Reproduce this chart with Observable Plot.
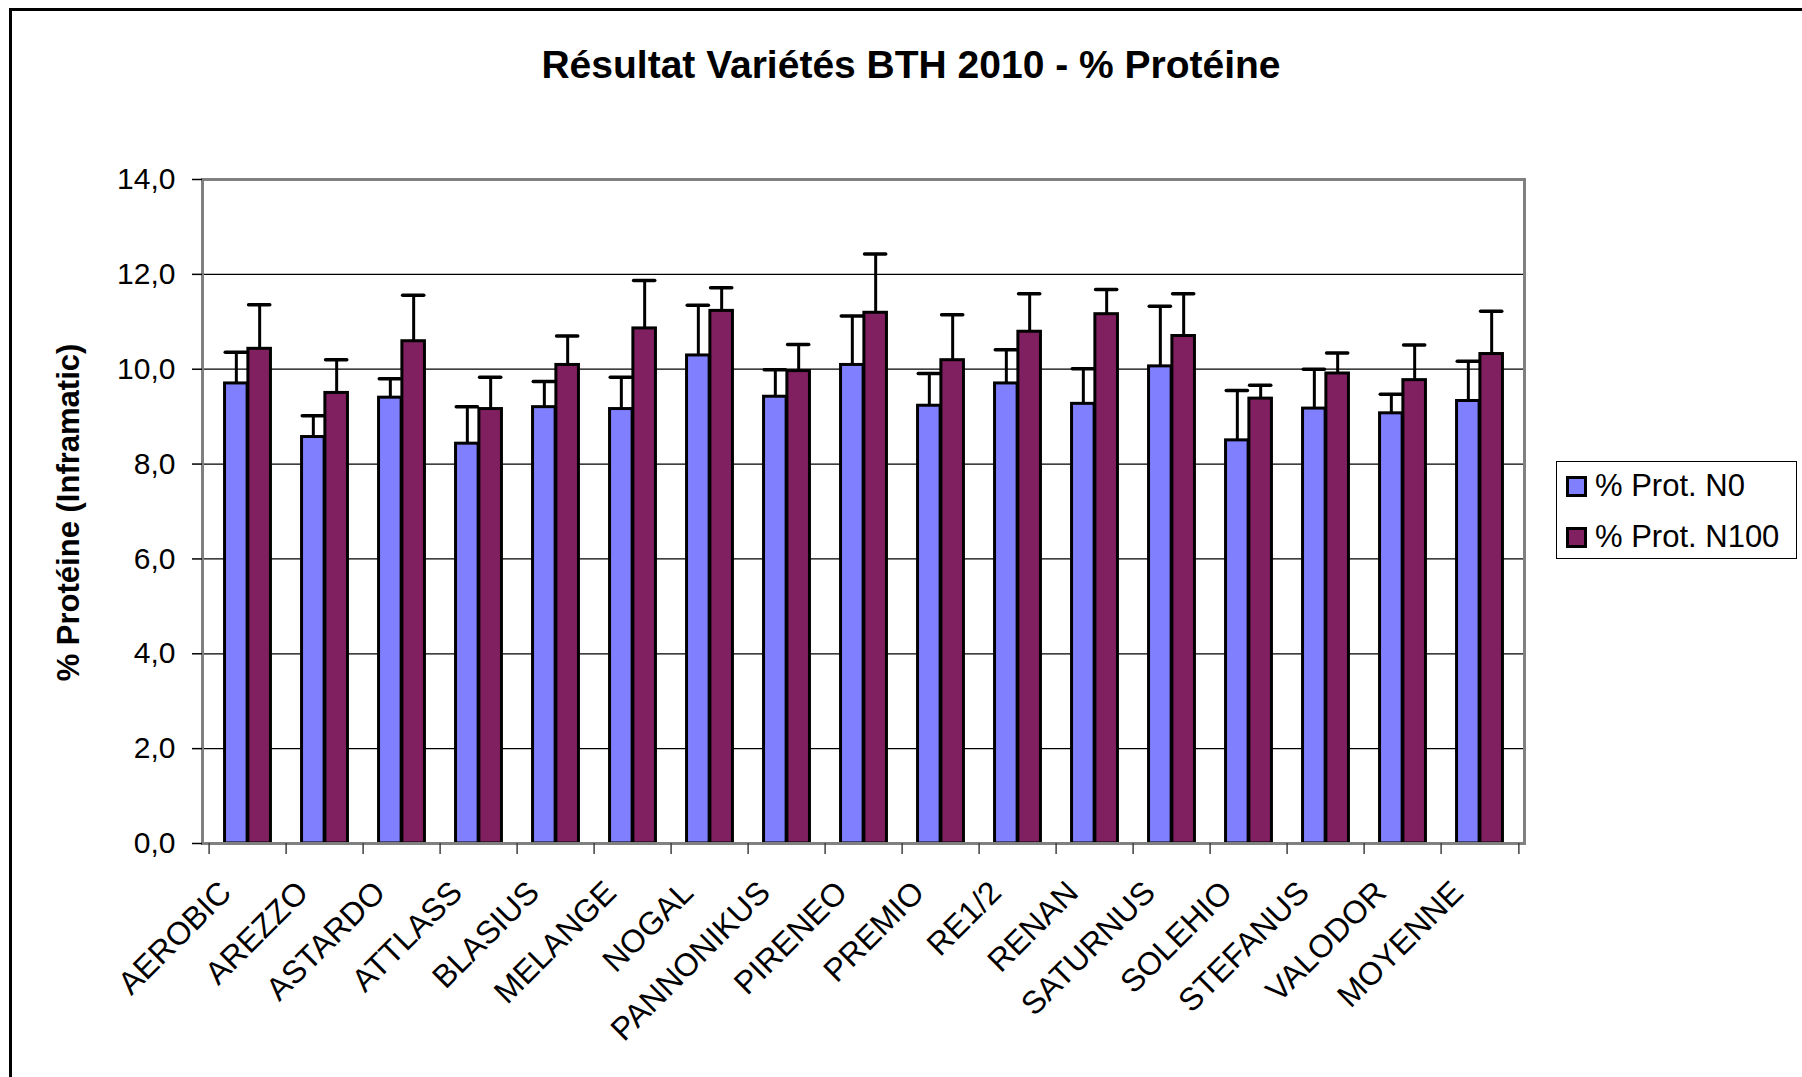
<!DOCTYPE html>
<html><head><meta charset="utf-8">
<script src="https://cdn.jsdelivr.net/npm/d3@7"></script>
<script src="https://cdn.jsdelivr.net/npm/@observablehq/plot@0.6"></script>
<style>
body{margin:0;background:#fff;font-family:"Liberation Sans",Arial,sans-serif;}
#wrap{position:relative;width:1802px;height:1077px;overflow:hidden;background:#fff;}
#frame{position:absolute;left:9px;top:8px;width:1810px;height:1090px;border-top:3px solid #000;border-left:3px solid #000;}
#title{position:absolute;left:0;top:45px;width:1822px;text-align:center;font-weight:bold;font-size:39px;line-height:39px;color:#000;}
#chart{position:absolute;left:0;top:110px;}
#legend{position:absolute;left:1556px;top:461px;width:239px;height:96px;border:1px solid #000;background:#fff;}
.item{position:absolute;left:9px;height:30px;display:flex;align-items:center;font-size:31px;color:#000;white-space:nowrap;}
.sw{width:15px;height:15px;border:3px solid #000;margin-right:8px;}
</style></head>
<body>
<div id="wrap">
  <div id="frame"></div>
  <div id="title"></div>
  <div id="chart"></div>
  <div id="legend"></div>
</div>
<script>
const chartTitle = "Résultat Variétés BTH 2010 - % Protéine";
const yLabel = "% Protéine (Inframatic)";
const categories = ["AEROBIC","AREZZO","ASTARDO","ATTLASS","BLASIUS","MELANGE","NOGAL","PANNONIKUS","PIRENEO","PREMIO","RE1/2","RENAN","SATURNUS","SOLEHIO","STEFANUS","VALODOR","MOYENNE"];
const seriesNames = ["% Prot. N0", "% Prot. N100"];
const protN0 =      [9.70, 8.57, 9.40, 8.43, 9.20, 9.16, 10.29, 9.42, 10.09, 9.23, 9.70, 9.27, 10.06, 8.50, 9.17, 9.07, 9.33];
const protN0Err =   [0.66, 0.45, 0.40, 0.78, 0.54, 0.67, 1.06, 0.57, 1.03, 0.68, 0.71, 0.74, 1.27, 1.05, 0.83, 0.40, 0.84];
const protN100 =    [10.43, 9.50, 10.59, 9.16, 10.09, 10.86, 11.23, 9.96, 11.19, 10.19, 10.79, 11.16, 10.70, 9.38, 9.91, 9.77, 10.32];
const protN100Err = [0.93, 0.70, 0.97, 0.67, 0.61, 1.01, 0.49, 0.56, 1.24, 0.96, 0.80, 0.52, 0.89, 0.28, 0.43, 0.74, 0.90];
const yTicks = [0, 2, 4, 6, 8, 10, 12, 14];
const gridTicks = [2, 4, 6, 8, 10, 12];

const colors = ["#8080ff", "#802060"];

const rows = categories.map((c, i) => ({
  cat: c, n0: protN0[i], n0Up: protN0[i] + protN0Err[i],
  n100: protN100[i], n100Up: protN100[i] + protN100Err[i]
}));

const W = 1802, H = 967;
const mL = 202, mR = 278, mT = 69, mB = 234;
const step = (W - mL - mR) / categories.length;
const bw = step * 0.3;
const capHalf = bw * 0.47;

const plot = Plot.plot({
  width: W, height: H,
  marginLeft: mL, marginRight: mR, marginTop: mT, marginBottom: mB,
  style: {fontFamily: "Liberation Sans, Arial, sans-serif", fontSize: "30px", color: "#000", background: "transparent", overflow: "visible"},
  x: {type: "band", domain: categories, padding: 0, axis: null},
  y: {domain: [0, 14], axis: null},
  marks: [
    Plot.gridY(gridTicks, {stroke: "#000", strokeOpacity: 1, strokeWidth: 1.2}),
    // error bars N0
    Plot.ruleX(rows, {x: "cat", y1: "n0", y2: "n0Up", dx: -bw / 2, stroke: "#000", strokeWidth: 3}),
    Plot.tickY(rows, {x: "cat", y: "n0Up", insetLeft: step / 2 - bw / 2 - capHalf, insetRight: step / 2 + bw / 2 - capHalf, stroke: "#000", strokeWidth: 3.5, strokeLinecap: "round"}),
    // error bars N100
    Plot.ruleX(rows, {x: "cat", y1: "n100", y2: "n100Up", dx: bw / 2, stroke: "#000", strokeWidth: 3}),
    Plot.tickY(rows, {x: "cat", y: "n100Up", insetLeft: step / 2 + bw / 2 - capHalf, insetRight: step / 2 - bw / 2 - capHalf, stroke: "#000", strokeWidth: 3.5, strokeLinecap: "round"}),
    // bars
    Plot.barY(rows, {x: "cat", y: "n0", fill: colors[0], stroke: "#000", strokeWidth: 3, insetLeft: step / 2 - bw, insetRight: step / 2}),
    Plot.barY(rows, {x: "cat", y: "n100", fill: colors[1], stroke: "#000", strokeWidth: 3, insetLeft: step / 2, insetRight: step / 2 - bw}),
    // plot area frame
    Plot.frame({stroke: "#808080", strokeWidth: 3}),
    // y axis
    Plot.axisY(yTicks, {tickFormat: d => d.toFixed(1).replace(".", ","), tickSize: 10, tickPadding: 17, fontSize: 30, label: null, stroke: "#000", strokeWidth: 1.5}),
    // x boundary ticks
    Plot.axisX(categories, {tickSize: 11, tickFormat: () => "", dx: -step / 2, label: null, stroke: "#404040", strokeWidth: 1.5}),
    Plot.axisX([categories[categories.length - 1]], {tickSize: 11, tickFormat: () => "", dx: step / 2, label: null, stroke: "#404040", strokeWidth: 1.5}),
    // category labels
    Plot.text(categories, {x: d => d, frameAnchor: "bottom", dx: -15, dy: 51, rotate: -45, textAnchor: "end", lineAnchor: "bottom", fontSize: 32, fill: "#000"}),
    // y label
    Plot.text([yLabel], {frameAnchor: "left", dx: -133, dy: 1, rotate: -90, textAnchor: "middle", lineAnchor: "middle", fontWeight: "bold", fontSize: 31, fill: "#000"})
  ]
});
document.getElementById("chart").appendChild(plot);
document.getElementById("title").textContent = chartTitle;

const legend = document.getElementById("legend");
seriesNames.forEach((name, i) => {
  const item = document.createElement("div");
  item.className = "item";
  item.style.top = (9 + i * 51) + "px";
  const sw = document.createElement("div");
  sw.className = "sw";
  sw.style.background = colors[i];
  const t = document.createElement("span");
  t.textContent = name;
  item.appendChild(sw);
  item.appendChild(t);
  legend.appendChild(item);
});
</script>
</body></html>
